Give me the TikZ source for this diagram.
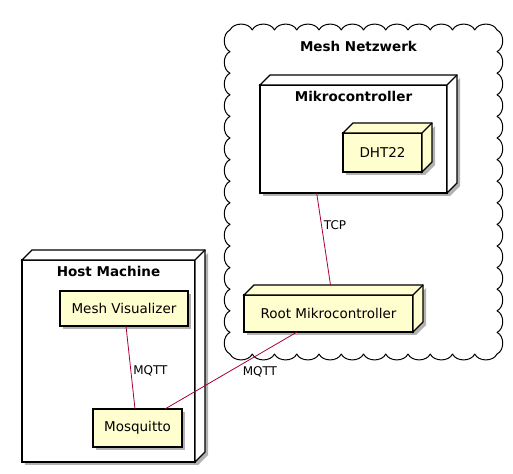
\documentclass[tikz,border=0pt]{standalone}
\usepackage{fontspec}
\setmainfont{DejaVu Sans}
\usepackage{tikz}
\usetikzlibrary{calc, shadows, positioning}

\definecolor{nodefill}{HTML}{FEFECE}
\definecolor{linkred}{HTML}{A80036}
\newcommand{\nodesize}{\fontsize{13.5}{16}\selectfont}
\newcommand{\labelsize}{\fontsize{12}{14}\selectfont}

% depth faces of a 3d node box, drawn after the node itself
\newcommand{\boxdepth}[2]{%
  \fill[black!30] ($(#1.north east)+(3,-3)$) -- ++(10,10) -- ($(#1.south east)+(13,7)$) -- ($(#1.south east)+(3,-3)$) -- cycle;
  \filldraw[boxline, fill=#2] (#1.north west) -- ++(10,10) -| ($(#1.south east)+(10,10)$) -- (#1.south east) -- (#1.north east) -- cycle;
  \draw[boxline] (#1.north east) -- ++(10,10);
}

\begin{document}
\begin{tikzpicture}[x=1pt, y=1pt,%
  boxline/.style={draw=black, line width=1.2pt, line join=miter},%
  boxshadow/.style={drop shadow={shadow xshift=3pt, shadow yshift=-3pt, fill=black!30, opacity=1}},%
  threedbox/.style={rectangle, boxline, outer sep=0pt, inner sep=0pt, font=\nodesize, boxshadow},%
  plainbox/.style={threedbox, fill=nodefill},%
  titlefont/.style={font=\nodesize\bfseries, inner sep=0pt},%
  cloudline/.style={draw=black, line width=1pt, fill=white, line join=round},%
  link/.style={draw=linkred, line width=0.8pt},%
  linklabel/.style={font=\labelsize, anchor=west, inner sep=2pt}%
]
  \useasboundingbox (0,0) rectangle (513,-473);

  % cloud
  \draw[cloudline] (230,-354)
    \foreach \i in {1,...,12} { to[bend right=65] ++(22.25,0) }
    \foreach \i in {1,...,15} { to[bend right=65] ++(0,21.6) }
    \foreach \i in {1,...,12} { to[bend right=65] ++(-22.25,0) }
    \foreach \i in {1,...,15} { to[bend right=65] ++(0,-21.6) } -- cycle;
  \node[titlefont] (cloudtitle) at (358.5,-46) {Mesh Netzwerk};

  % mesh nodes
  \node[threedbox, fill=white, minimum width=187pt, minimum height=108pt] (mikro) at (353.5,-139) {};
  \boxdepth{mikro}{white}
  \node[titlefont] (mikrotitle) at ($(mikro.north)+(0,-11.5)$) {Mikrocontroller};
  \node[threedbox, fill=nodefill, minimum width=79pt, minimum height=39pt] (dht) at (382.5,-152.5) {DHT22};
  \boxdepth{dht}{nodefill}
  \node[threedbox, fill=nodefill, minimum width=169pt, minimum height=37pt] (root) at (328.5,-313.5) {Root Mikrocontroller};
  \boxdepth{root}{nodefill}

  % host
  \node[threedbox, fill=white, minimum width=173pt, minimum height=202pt] (host) at (108.5,-361) {};
  \boxdepth{host}{white}
  \node[titlefont] (hosttitle) at ($(host.north)+(0,-11)$) {Host Machine};
  \node[plainbox, minimum width=128pt, minimum height=35pt] (vis) at (124,-308.5) {Mesh Visualizer};
  \node[plainbox, minimum width=89pt, minimum height=38pt] (mosq) at (137.5,-428) {Mosquitto};

  % links
  \draw[link] ($(mikro.south west)!0.303!(mikro.south east)$) -- node[linklabel, pos=0.35] {TCP} ($(root.north)+(2,10)$);
  \draw[link] ($(vis.south)+(2,0)$) -- node[linklabel, pos=0.54] {MQTT} ($(mosq.north)+(-2.5,0)$);
  \draw[link] ($(root.south west)!0.314!(root.south east)$) -- node[linklabel, pos=0.52, xshift=12pt] {MQTT} ($(mosq.south west|-mosq.north)!0.809!(mosq.north east)$);
\end{tikzpicture}
\end{document}
